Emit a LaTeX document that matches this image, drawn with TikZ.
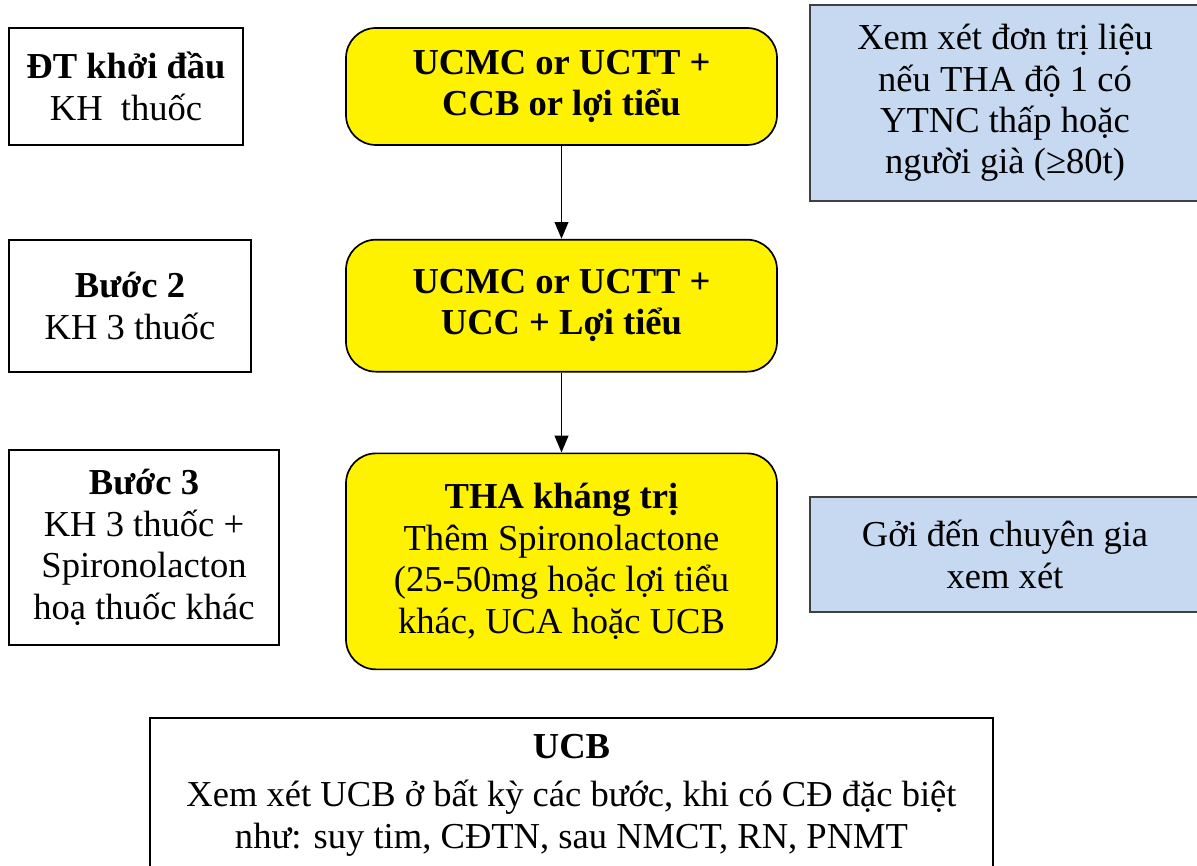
\documentclass[tikz,border=0pt]{standalone}
\usepackage{fontspec}
\setmainfont{Liberation Serif}
\usepackage{xcolor}
\usepackage{tikz}
\usetikzlibrary{positioning, arrows.meta}
\definecolor{noteblue}{RGB}{198,217,241}

\begin{document}
\begin{tikzpicture}[
    every node/.style={
        align=center,
        font=\fontsize{26}{29.5}\selectfont,
        inner sep=2pt
    },
    stepbox/.style={draw, line width=1.2pt, fill=white},
    drugbox/.style={draw, line width=1.2pt, rounded corners=0.75cm, fill=yellow,
        minimum width=10.775cm},
    notebox/.style={draw=black!75, line width=0.9pt, fill=noteblue,
        minimum width=9.75cm},
    arrow/.style={-{Triangle[length=4.2mm,width=3.4mm]}, line width=1.4pt}
]

\clip (0,0) rectangle (29.925,21.65);
\fill[white] (0,0) rectangle (29.925,21.65);

% middle column
\node (drugA) [drugbox, minimum height=2.925cm] at (14.0375,19.4875)
    {\textbf{UCMC or UCTT +}\\\textbf{CCB or lợi tiểu}};
\node (drugB) [drugbox, minimum height=3.3cm, below=2.325cm of drugA]
    {\textbf{UCMC or UCTT +}\\\textbf{UCC + Lợi tiểu}};
\node (drugC) [drugbox, minimum height=5.4cm, below=2cm of drugB]
    {\textbf{THA kháng trị}\\Thêm Spironolactone\\(25-50mg hoặc lợi tiểu\\khác, UCA hoặc UCB};

% left column
\node (start) [stepbox, minimum width=5.85cm, minimum height=2.925cm] at (3.15,19.4875)
    {\textbf{ĐT khởi đầu}\\KH\ \ thuốc};
\node (stepB) [stepbox, minimum width=6.05cm, minimum height=3.3cm] at (3.25,14.0)
    {\textbf{Bước 2}\\KH 3 thuốc};
\node (stepC) [stepbox, minimum width=6.75cm, minimum height=4.875cm] at (3.6,7.9625)
    {\textbf{Bước 3}\\KH 3 thuốc +\\Spironolacton\\hoạ thuốc khác};

% right column
\node (noteA) [notebox, minimum height=4.9cm] at (25.125,19.075)
    {Xem xét đơn trị liệu\\nếu THA độ 1 có\\YTNC thấp hoặc\\người già (≥80t)};
\node (noteB) [notebox, minimum height=2.875cm] at (25.125,7.7875)
    {Gởi đến chuyên gia\\xem xét};

% bottom
\node (ucb) [stepbox, minimum width=21.075cm, minimum height=3.85cm] at (14.2875,1.775)
    {\textbf{UCB}\\[5pt]Xem xét UCB ở bất kỳ các bước, khi có CĐ đặc biệt\\như: suy tim, CĐTN, sau NMCT, RN, PNMT};

\draw[arrow] (drugA) -- (drugB);
\draw[arrow] (drugB) -- (drugC);

\end{tikzpicture}
\end{document}
